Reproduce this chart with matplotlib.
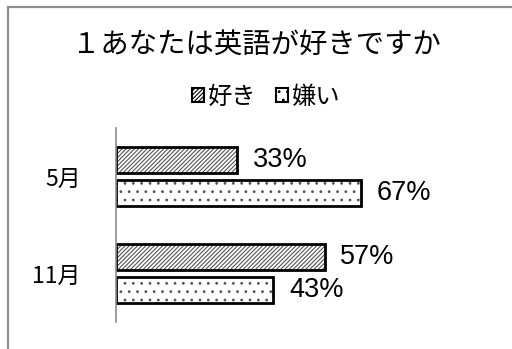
import matplotlib.pyplot as plt
from matplotlib.patches import Patch, Rectangle

plt.rcParams['font.family'] = ['Noto Sans CJK JP', 'DejaVu Sans']
plt.rcParams['hatch.linewidth'] = 0.8

title = "１あなたは英語が好きですか"
months = ["5月", "11月"]
series = ["好き", "嫌い"]
like = [33, 57]
dislike = [67, 43]
hatches = ["////////", ".."]

W, H = 512, 349
fig = plt.figure(figsize=(W / 100, H / 100), dpi=100)

# outer chart frame (only top/left visible)
fig.patches.append(Rectangle((8 / W, -0.1), 1.2, (H - 7) / H + 0.1, transform=fig.transFigure,
                             fill=False, edgecolor="#8c8c8c", linewidth=1.6))

ax = fig.add_axes([116 / W, (H - 322) / H, 366 / W, 194 / H])

ypos = [0, 1]
off = 0.17
h = 0.27
vals = [like, dislike]
for k, v in enumerate(vals):
    yy = [y - off + 2 * off * k for y in ypos]
    ax.barh(yy, v, height=h, color="white", edgecolor="#555555", hatch=hatches[k], linewidth=0)
    ax.barh(yy, v, height=h, fill=False, edgecolor="black", linewidth=2)
    for y, val in zip(yy, v):
        ax.text(val + 4.3, y, f"{val}%", va="center", ha="left", fontsize=19.5,
                family="Liberation Sans")

ax.set_xlim(0, 100)
ax.set_ylim(1.5, -0.5)
ax.set_yticks(ypos)
ax.set_yticklabels(months, fontsize=16.5)
ax.tick_params(left=False, bottom=False, labelbottom=False, pad=22)
for s in ["top", "right", "bottom"]:
    ax.spines[s].set_visible(False)
ax.spines["left"].set_color("#8c8c8c")
ax.spines["left"].set_linewidth(1.2)

fig.text(0.5, (H - 45) / H, title, ha="center", va="center", fontsize=20.4)

handles = [Patch(facecolor="white", edgecolor="black", hatch=hatches[i], linewidth=1.5)
           for i in range(2)]
fig.legend(handles, series, loc="center", bbox_to_anchor=(266 / W, (H - 97) / H), ncol=2,
           frameon=False, fontsize=17.5, handlelength=0.5, handleheight=0.5,
           handletextpad=0.15, columnspacing=0.8)

fig.savefig("out.png", dpi=100)
